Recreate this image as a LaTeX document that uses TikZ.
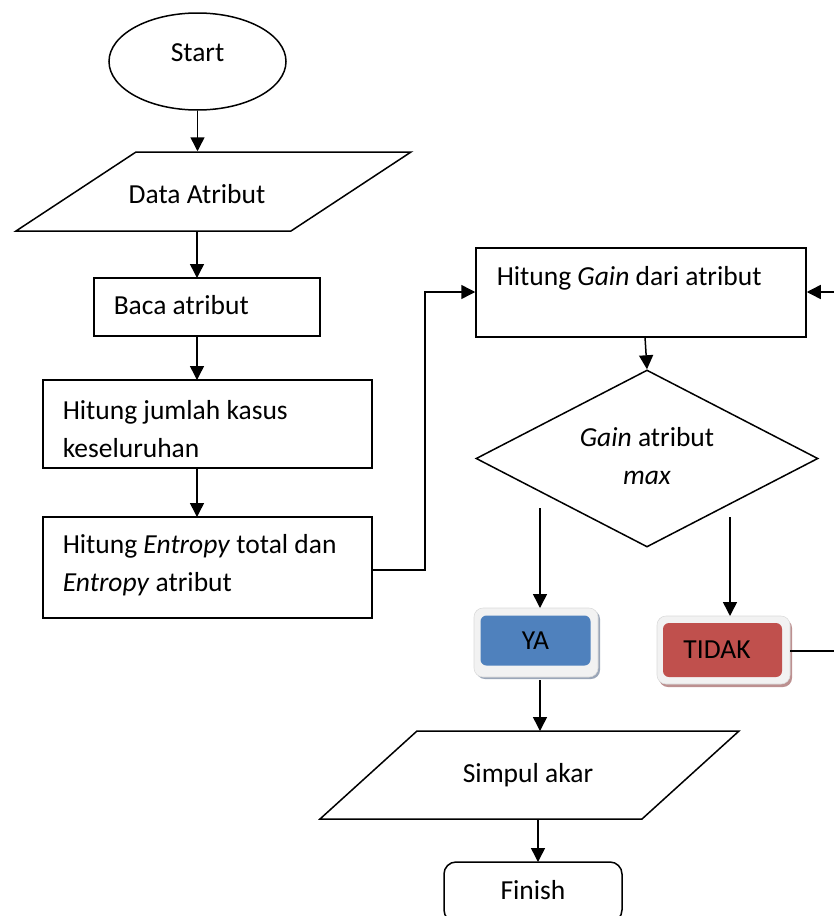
\documentclass[tikz,border=0pt]{standalone}
\usepackage{fontspec}
\setmainfont{Carlito}
\usetikzlibrary{arrows.meta,shapes.geometric}
\definecolor{yablue}{HTML}{4F81BD}
\definecolor{tidakred}{HTML}{C0504D}
\definecolor{frame}{HTML}{F2F2F2}
\definecolor{yashadow}{HTML}{9AA6B8}
\definecolor{tidakshadow}{HTML}{BC9090}
\begin{document}
\begin{tikzpicture}[x=1pt,y=-1pt,
  font=\fontsize{27.5}{38}\selectfont,
  line width=1.5pt,
  arr/.style={-{Triangle[length=14pt,width=14pt]}},
  box/.style={draw, rectangle, inner sep=0pt},
  ghost/.style={rectangle, inner sep=0pt},
  txt/.style={inner sep=0pt, align=left},
  btnframe/.style={fill=frame, draw=frame!80!gray, line width=0.6pt, rounded corners=9pt},
]
\useasboundingbox (0,0) rectangle (833,916);

% Start
\node[draw, ellipse, minimum width=177pt, minimum height=97pt, inner sep=0pt] (start) at (197.5,61.5) {};
\node[txt] (startt) at (197.5,53) {Start};

% Data Atribut (parallelogram)
\node[ghost, minimum width=395pt, minimum height=79pt] (data) at (213.5,191.5) {};
\draw (136,152) -- (411,152) -- (291,231) -- (16,231) -- cycle;
\node[txt] (datat) at (197,194) {Data Atribut};

% Baca atribut
\node[box, minimum width=226pt, minimum height=58pt] (baca) at (207,307) {};
\node[txt, anchor=west] (bacat) at (113,305) {Baca atribut};

% Hitung jumlah kasus
\node[box, minimum width=329pt, minimum height=88pt] (jumlah) at (207.5,424) {};
\node[txt, anchor=west] (jumlaht) at (62,429) {Hitung jumlah kasus\\keseluruhan};

% Hitung Entropy
\node[box, minimum width=329pt, minimum height=101pt] (entropy) at (207.5,567.5) {};
\node[txt, anchor=west] (entropyt) at (62,565) {Hitung \textit{Entropy} total dan\\\textit{Entropy} atribut};

% Hitung Gain
\node[box, minimum width=330pt, minimum height=89pt] (gain) at (641,292.5) {};
\node[txt, anchor=west] (gaint) at (496,278) {Hitung \textit{Gain} dari atribut};

% Diamond
\node[draw, diamond, minimum width=342pt, minimum height=177pt, inner sep=0pt] (dec) at (647,458.5) {};
\node[txt, align=center] (dect) at (647,456) {\textit{Gain} atribut\\\textit{max}};

% YA button
\fill[yashadow, rounded corners=9pt] (476,610) rectangle (600,679);
\draw[btnframe] (474,608) rectangle (598,677);
\node[fill=yablue, rounded corners=6pt, minimum width=110pt, minimum height=50pt, inner sep=0pt] (ya) at (535.5,640.5) {YA};
\coordinate (yatop) at (540,608);
\coordinate (yabot) at (540,680);

% TIDAK button
\fill[tidakshadow, rounded corners=9pt] (659,619) rectangle (792,687);
\draw[btnframe] (657,616) rectangle (790,684);
\node[fill=tidakred, rounded corners=6pt, minimum width=119pt, minimum height=54pt, inner sep=0pt] (tidak) at (722.5,650) {};
\node[txt] (tidakt) at (717,650) {TIDAK};
\coordinate (tidakright) at (790,651);

% Simpul akar
\node[ghost, minimum width=419pt, minimum height=88pt] (simpul) at (529.5,775) {};
\draw (417,731) -- (739,731) -- (642,819) -- (320,819) -- cycle;
\node[txt] (simpult) at (528,775) {Simpul akar};

% Finish
\node[draw, rounded corners=12pt, minimum width=178pt, minimum height=60pt, inner sep=0pt] (finish) at (533,892) {};
\node[txt] (finisht) at (533,890) {Finish};

% Connectors
\draw[arr] (start.south) -- (start.south |- data.north);
\draw[arr] (197,231) -- (197,278);
\draw[arr] (197,336) -- (197,380);
\draw[arr] (197,468) -- (197,517);
\draw[arr] (entropy.east |- 0,570) -- (425,570) -- (425,292) -- (gain.west |- 0,292);
\draw[arr] (645,337) -- (dec.north);
\coordinate (yastart) at (540,508);
\coordinate (tidakstart) at (730,517);
\draw[arr] (yastart) -- (yatop);
\draw[arr] (tidakstart) -- (730,616);
\draw (tidakright) -- (850,651) -- (850,292);
\draw[arr] (850,292) -- (gain.east |- 0,292);
\draw[arr] (yabot) -- (540,731);
\draw[arr] (538,819) -- (538,862);
\end{tikzpicture}
\end{document}
